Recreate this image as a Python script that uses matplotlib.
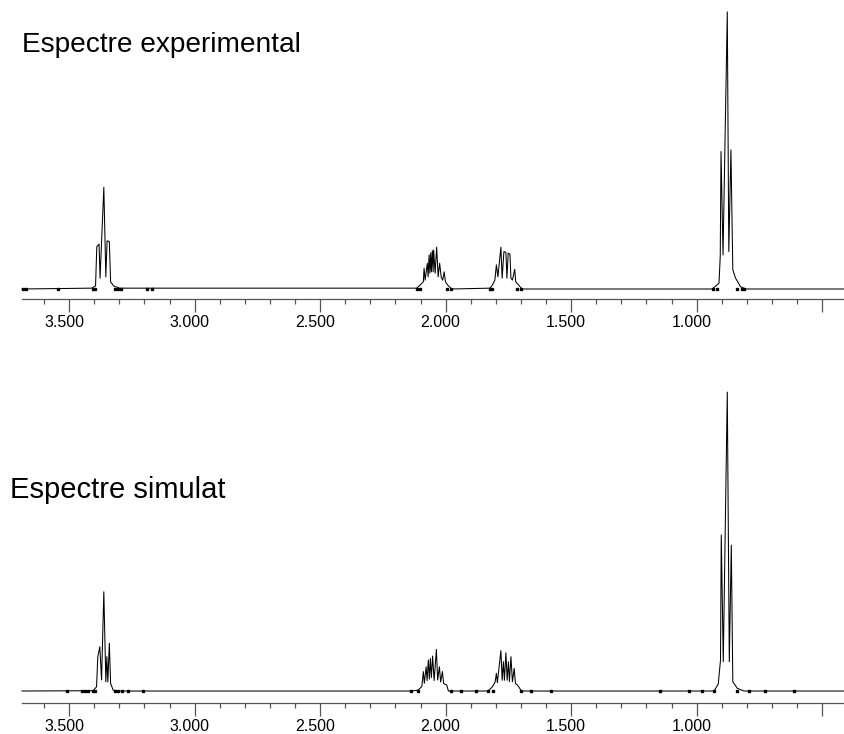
import matplotlib.pyplot as plt
from matplotlib.ticker import MultipleLocator, FixedLocator
from matplotlib.transforms import ScaledTranslation

plt.rcParams['font.family'] = ['Liberation Sans', 'DejaVu Sans']

# spectrum vertices, ppm (decreasing) and relative intensity (%)
exp_ppm = [3.688,
           3.411, 3.395, 3.390, 3.381, 3.377, 3.362, 3.354, 3.349, 3.340, 3.335, 3.323, 3.299,
           2.115, 2.102, 2.089, 2.086, 2.082, 2.073, 2.070, 2.066, 2.063, 2.0595, 2.057, 2.053,
           2.050, 2.048, 2.042, 2.036, 2.030, 2.024, 2.018, 2.012, 2.006, 2.001, 1.992, 1.976,
           1.824, 1.814, 1.804, 1.798, 1.792, 1.780, 1.775, 1.768, 1.760, 1.756, 1.751, 1.744,
           1.740, 1.734, 1.725, 1.721, 1.709, 1.696,
           0.938, 0.911, 0.906, 0.903, 0.895, 0.878, 0.872, 0.8635, 0.856, 0.845, 0.825, 0.805,
           0.413]
exp_int = [0.0,
           0.3, 1.1, 15.3, 16.2, 3.9, 36.7, 4.4, 17.4, 17.1, 2.6, 1.1, 0.3,
           0.3, 1.4, 2.6, 7.5, 3.2, 9.3, 4.4, 12.3, 5.7, 13.1, 6.2, 13.8,
           6.2, 14.1, 5.7, 15.1, 4.4, 9.3, 4.4, 3.2, 6.2, 2.6, 1.4, 0.0,
           0.3, 1.4, 3.2, 8.7, 4.4, 15.1, 3.9, 13.5, 13.2, 3.9, 12.9, 12.6,
           3.9, 3.2, 7.1, 2.6, 1.4, 0.0,
           0.0, 2.1, 12.0, 49.6, 12.3, 100.0, 13.5, 50.2, 6.9, 3.9, 0.8, 0.0,
           0.0]

sim_ppm = [3.688,
           3.405, 3.391, 3.386, 3.378, 3.371, 3.362, 3.354, 3.350, 3.346, 3.340, 3.335, 3.325, 3.300,
           2.137, 2.110, 2.095, 2.089, 2.085, 2.078, 2.074, 2.069, 2.065, 2.061, 2.057, 2.052,
           2.046, 2.037, 2.032, 2.025, 2.020, 2.013, 2.008, 1.996, 1.989,
           1.831, 1.814, 1.803, 1.798, 1.794, 1.780, 1.775, 1.770, 1.766, 1.760, 1.755, 1.750,
           1.746, 1.740, 1.734, 1.727, 1.722, 1.714, 1.698,
           0.931, 0.914, 0.905, 0.902, 0.894, 0.878, 0.870, 0.862, 0.856, 0.838, 0.812,
           0.413]
sim_int = [0.0,
           0.1, 1.4, 11.5, 14.8, 3.7, 33.2, 3.1, 11.5, 3.0, 16.0, 2.6, 0.3, 0.0,
           0.0, 0.3, 1.5, 6.5, 2.6, 8.1, 3.5, 10.4, 4.0, 10.9, 4.5, 11.7,
           3.5, 13.9, 3.7, 8.1, 3.0, 6.5, 2.5, 2.0, 0.0,
           0.0, 1.4, 3.0, 5.9, 2.8, 13.5, 3.6, 9.8, 3.6, 12.8, 3.6, 9.8,
           3.1, 11.5, 3.1, 7.6, 2.5, 2.0, 0.0,
           0.0, 2.3, 10.4, 52.2, 9.8, 100.0, 9.8, 48.8, 3.1, 0.9, 0.0,
           0.0]

# small squares sitting on the baseline
exp_dots = [3.684, 3.672, 3.545, 3.406, 3.398, 3.319, 3.307, 3.295, 3.188, 3.172,
            2.115, 2.103, 1.995, 1.980, 1.823, 1.814, 1.716, 1.700,
            0.934, 0.918, 0.840, 0.820, 0.810]
sim_dots = [3.509, 3.450, 3.438, 3.426, 3.406, 3.398, 3.318, 3.307, 3.291, 3.267, 3.204,
            2.137, 2.110, 1.980, 1.940, 1.878, 1.830, 1.810, 1.700, 1.660, 1.580,
            1.148, 1.029, 0.980, 0.930, 0.840, 0.790, 0.728, 0.613]

major = [3.5, 3.0, 2.5, 2.0, 1.5, 1.0, 0.5]
major_labels = ['3.500', '3.000', '2.500', '2.000', '1.500', '1.000', '']

fig = plt.figure(figsize=(8.44, 7.34), dpi=100)
ax1 = fig.add_axes([22/844, 1 - 299.3/734, 822/844, 299.3/734])
ax2 = fig.add_axes([22/844, 1 - 702.7/734, 822/844, (702.7 - 370)/734])

panels = [(ax1, exp_ppm, exp_int, exp_dots, (-3.72, 104.3)),
          (ax2, sim_ppm, sim_int, sim_dots, (-3.91, 107.4))]

for ax, ppm, inten, dots, ylim in panels:
    ax.plot(ppm, inten, color='black', lw=0.75, clip_on=False)
    ax.plot(dots, [0] * len(dots), ls='none', marker='s', ms=1.7,
            color='black', clip_on=False)
    ax.set_xlim(3.688, 0.413)
    ax.set_ylim(*ylim)
    for s in ['top', 'left', 'right']:
        ax.spines[s].set_visible(False)
    ax.spines['bottom'].set_color('#555555')
    ax.spines['bottom'].set_linewidth(0.9)
    ax.set_yticks([])
    ax.xaxis.set_major_locator(FixedLocator(major))
    ax.set_xticklabels(major_labels)
    ax.xaxis.set_minor_locator(MultipleLocator(0.1))
    ax.tick_params(axis='x', which='major', length=9.4, width=0.9,
                   color='#555555', labelsize=11.5, pad=2)
    ax.tick_params(axis='x', which='minor', length=3.6, width=0.9,
                   color='#555555')
    ax.patch.set_alpha(0)
    for lab in ax.get_xticklabels():
        lab.set_transform(lab.get_transform() +
                          ScaledTranslation(-0.05, 0, fig.dpi_scale_trans))

fig.text(22/844, 1 - 45/734, 'Espectre experimental', fontsize=20.2, va='center')
fig.text(10/844, 1 - 490/734, 'Espectre simulat', fontsize=21, va='center')

fig.savefig('out.png', dpi=100)
